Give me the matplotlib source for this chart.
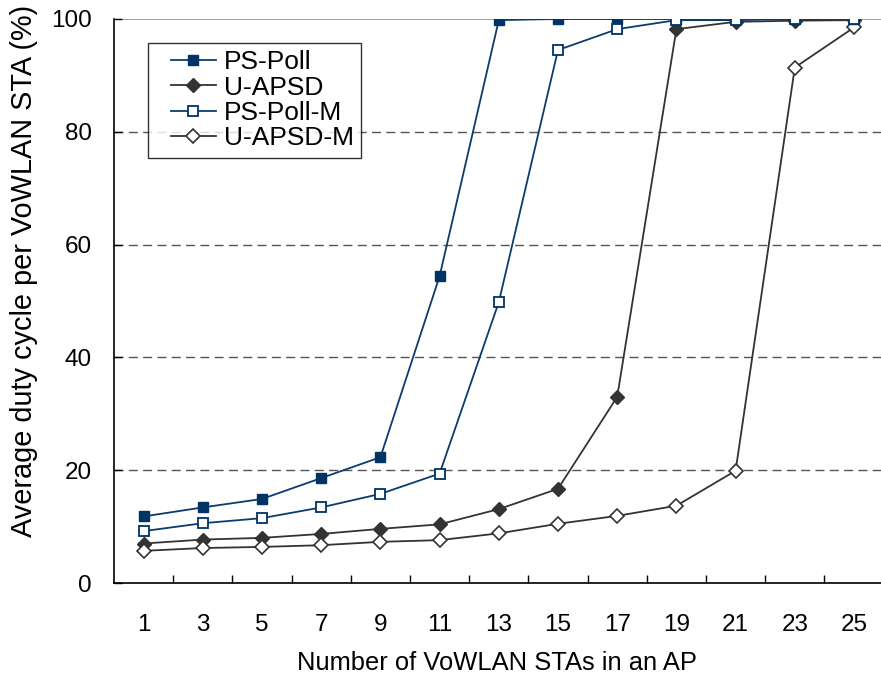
import matplotlib
matplotlib.use("Agg")
import matplotlib.pyplot as plt
from matplotlib.legend_handler import HandlerLine2D

plt.rcParams['font.family'] = ['Liberation Sans', 'DejaVu Sans']

categories = ["1", "3", "5", "7", "9", "11", "13", "15", "17", "19", "21", "23", "25"]
ps_poll = [11.8, 13.4, 14.9, 18.6, 22.3, 54.4, 99.8, 100.0, 100.0, 100.0, 100.0, 100.0, 100.0]
u_apsd = [7.0, 7.7, 8.0, 8.7, 9.6, 10.4, 13.1, 16.7, 33.0, 98.2, 99.5, 99.7, 99.8]
ps_poll_m = [9.2, 10.6, 11.5, 13.4, 15.8, 19.4, 49.8, 94.5, 98.2, 99.8, 99.8, 100.0, 100.0]
u_apsd_m = [5.7, 6.2, 6.4, 6.7, 7.3, 7.6, 8.8, 10.5, 11.9, 13.7, 19.9, 91.4, 98.5]
yticks = [0, 20, 40, 60, 80, 100]

W, H = 881, 679
fig = plt.figure(figsize=(W / 100, H / 100), dpi=100)
left, right, top, bottom = 114, 883.6, 19, 583
ax = fig.add_axes([left / W, 1 - bottom / H, (right - left) / W, (bottom - top) / H])

navy = '#0d3b6e'
dark = '#333333'
x = list(range(len(categories)))

ax.plot(x, ps_poll, color=navy, lw=1.3, marker='s', ms=7.5, mfc='#003366', mec='#003366', label='PS-Poll', zorder=4)
ax.plot(x, u_apsd, color=dark, lw=1.3, marker='D', ms=7, mfc=dark, mec=dark, label='U-APSD', zorder=3)
ax.plot(x, ps_poll_m, color=navy, lw=1.3, marker='s', ms=7.5, mfc='white', mec='#003366', mew=1.3, label='PS-Poll-M', zorder=5)
ax.plot(x, u_apsd_m, color=dark, lw=1.3, marker='D', ms=7, mfc='white', mec=dark, mew=1.2, label='U-APSD-M', zorder=3)

ax.set_xlim(-0.5, len(categories) - 0.5)
ax.set_ylim(0, 100)
ax.set_xticks(x)
ax.set_xticklabels(categories)
ax.set_xticks([i + 0.5 for i in range(len(categories) - 1)], minor=True)
ax.tick_params(axis='x', which='major', length=0, pad=22, labelsize=17.5)
ax.tick_params(axis='x', which='minor', direction='in', length=6, width=1, color='black')
ax.set_yticks(yticks)
ax.tick_params(axis='y', direction='in', length=6, width=1, pad=16, labelsize=17.5)

for v in yticks[1:-1]:
    ax.axhline(v, color='#555555', lw=1, dashes=(6.5, 3.8), zorder=1)
ax.axhline(100, color='#999999', lw=1.3, zorder=1)

for s in ['top', 'right']:
    ax.spines[s].set_visible(False)
for s in ['left', 'bottom']:
    ax.spines[s].set_linewidth(1.2)
    ax.spines[s].set_color('black')

fs_leg = 19
hmap = {h: HandlerLine2D(xpad=0.58) for h in ax.get_lines()}
leg = ax.legend(loc='upper left', bbox_to_anchor=((148 - left) / (right - left), 1 - (43 - top) / (bottom - top)),
                fontsize=fs_leg, frameon=True, fancybox=False, edgecolor='black', borderpad=0.28,
                labelspacing=0.05, handlelength=2.3, handletextpad=0.3, borderaxespad=0,
                handler_map=hmap)
leg.get_frame().set_linewidth(1.0)

fig.text(497 / W, 1 - 663 / H, 'Number of VoWLAN STAs in an AP', ha='center', va='center', fontsize=18.4)
fig.text(24 / W, 1 - 537 / H, 'Average duty cycle per VoWLAN STA (%)', rotation=90, ha='center', va='bottom', fontsize=20.8)

fig.savefig('out.png', dpi=100)
